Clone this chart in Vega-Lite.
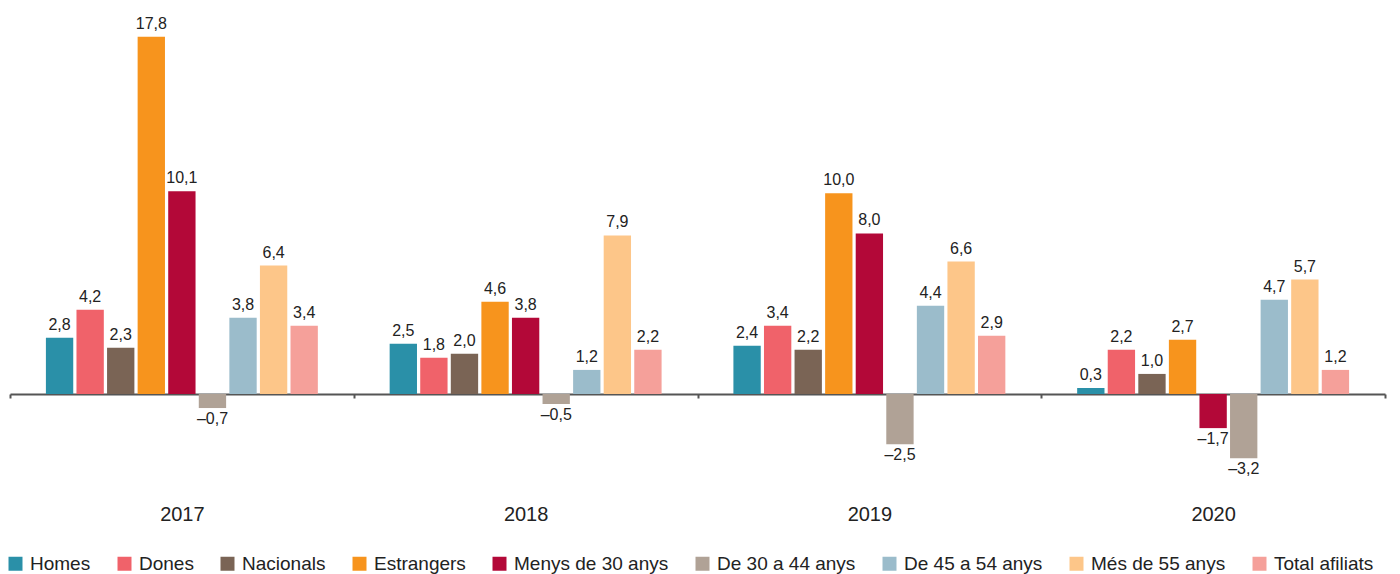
{
  "$schema": "https://vega.github.io/schema/vega-lite/v6.json",
  "width": 1375,
  "height": 480,
  "autosize": {"type": "none"},
  "padding": {"left": 10, "top": 0, "right": 15, "bottom": 94},
  "background": "white",
  "data": {
    "values": [
      {"any": "2017", "s": "Homes", "v": 2.8},
      {"any": "2017", "s": "Dones", "v": 4.2},
      {"any": "2017", "s": "Nacionals", "v": 2.3},
      {"any": "2017", "s": "Estrangers", "v": 17.8},
      {"any": "2017", "s": "Menys de 30 anys", "v": 10.1},
      {"any": "2017", "s": "De 30 a 44 anys", "v": -0.7},
      {"any": "2017", "s": "De 45 a 54 anys", "v": 3.8},
      {"any": "2017", "s": "Més de 55 anys", "v": 6.4},
      {"any": "2017", "s": "Total afiliats", "v": 3.4},
      {"any": "2018", "s": "Homes", "v": 2.5},
      {"any": "2018", "s": "Dones", "v": 1.8},
      {"any": "2018", "s": "Nacionals", "v": 2.0},
      {"any": "2018", "s": "Estrangers", "v": 4.6},
      {"any": "2018", "s": "Menys de 30 anys", "v": 3.8},
      {"any": "2018", "s": "De 30 a 44 anys", "v": -0.5},
      {"any": "2018", "s": "De 45 a 54 anys", "v": 1.2},
      {"any": "2018", "s": "Més de 55 anys", "v": 7.9},
      {"any": "2018", "s": "Total afiliats", "v": 2.2},
      {"any": "2019", "s": "Homes", "v": 2.4},
      {"any": "2019", "s": "Dones", "v": 3.4},
      {"any": "2019", "s": "Nacionals", "v": 2.2},
      {"any": "2019", "s": "Estrangers", "v": 10.0},
      {"any": "2019", "s": "Menys de 30 anys", "v": 8.0},
      {"any": "2019", "s": "De 30 a 44 anys", "v": -2.5},
      {"any": "2019", "s": "De 45 a 54 anys", "v": 4.4},
      {"any": "2019", "s": "Més de 55 anys", "v": 6.6},
      {"any": "2019", "s": "Total afiliats", "v": 2.9},
      {"any": "2020", "s": "Homes", "v": 0.3},
      {"any": "2020", "s": "Dones", "v": 2.2},
      {"any": "2020", "s": "Nacionals", "v": 1.0},
      {"any": "2020", "s": "Estrangers", "v": 2.7},
      {"any": "2020", "s": "Menys de 30 anys", "v": -1.7},
      {"any": "2020", "s": "De 30 a 44 anys", "v": -3.2},
      {"any": "2020", "s": "De 45 a 54 anys", "v": 4.7},
      {"any": "2020", "s": "Més de 55 anys", "v": 5.7},
      {"any": "2020", "s": "Total afiliats", "v": 1.2}
    ]
  },
  "layer": [
    {
      "mark": {"type": "point", "opacity": 0},
      "encoding": {
        "x": {
          "field": "any",
          "type": "nominal",
          "scale": {"paddingInner": 0, "paddingOuter": 0},
          "axis": {
            "title": null,
            "orient": "bottom",
            "offset": -86,
            "tickBand": "extent",
            "domainColor": "#555555",
            "domainWidth": 2,
            "tickColor": "#555555",
            "tickWidth": 2,
            "tickSize": 4,
            "labelFontSize": 20,
            "labelColor": "#222222",
            "labelFont": "Liberation Sans",
            "labelPadding": 106,
            "labelAngle": 0,
            "grid": false
          }
        }
      }
    },
    {
      "encoding": {
        "x": {
          "field": "any",
          "type": "nominal",
          "scale": {"paddingInner": 0.2, "paddingOuter": 0.1},
          "axis": null
        },
        "xOffset": {
          "field": "s",
          "type": "nominal",
          "sort": ["Homes", "Dones", "Nacionals", "Estrangers", "Menys de 30 anys", "De 30 a 44 anys", "De 45 a 54 anys", "Més de 55 anys", "Total afiliats"],
          "scale": {"paddingInner": 0.106, "paddingOuter": 0.05}
        },
        "y": {
          "field": "v",
          "type": "quantitative",
          "scale": {"domain": [-4.285, 19.63], "nice": false, "zero": false},
          "axis": null
        }
      },
      "layer": [
        {
          "mark": {"type": "bar"},
          "encoding": {
            "y2": {"datum": 0},
            "color": {
              "field": "s",
              "type": "nominal",
              "scale": {
                "domain": ["Homes", "Dones", "Nacionals", "Estrangers", "Menys de 30 anys", "De 30 a 44 anys", "De 45 a 54 anys", "Més de 55 anys", "Total afiliats"],
                "range": ["#2a90a8", "#f0626a", "#7a6455", "#f7941d", "#b30838", "#b0a296", "#9bbccb", "#fdc689", "#f5a09a"]
              },
              "legend": {
                "title": null,
                "orient": "none",
                "direction": "horizontal",
                "legendX": -4,
                "legendY": 554,
                "symbolType": "square",
                "symbolSize": 196,
                "symbolStrokeWidth": 0,
                "symbolOpacity": 1,
                "labelFontSize": 19,
                "labelFont": "Liberation Sans",
                "labelColor": "#222222",
                "labelOffset": 5,
                "columnPadding": 24,
                "labelLimit": 400
              }
            }
          }
        },
        {
          "transform": [{"filter": "datum.v >= 0"}],
          "mark": {"type": "text", "baseline": "alphabetic", "dy": -8, "fontSize": 16, "font": "Liberation Sans", "color": "#222222"},
          "encoding": {"text": {"field": "v", "type": "quantitative", "format": ".1f"}}
        },
        {
          "transform": [{"filter": "datum.v < 0"}],
          "mark": {"type": "text", "baseline": "top", "dy": 3, "fontSize": 16, "font": "Liberation Sans", "color": "#222222"},
          "encoding": {"text": {"field": "v", "type": "quantitative", "format": ".1f"}}
        }
      ]
    }
  ],
  "resolve": {"scale": {"x": "independent"}},
  "config": {
    "view": {"stroke": null},
    "locale": {
      "number": {"decimal": ",", "thousands": ".", "grouping": [3], "currency": ["", " €"], "minus": "–"}
    }
  }
}
